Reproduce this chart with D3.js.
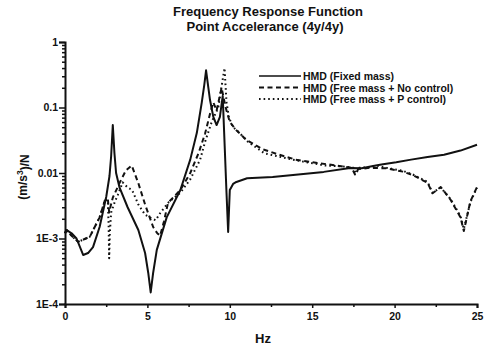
<!DOCTYPE html>
<html>
<head>
<meta charset="utf-8">
<script src="https://cdn.jsdelivr.net/npm/d3@7"></script>
<style>
  body { margin: 0; background: #fff; }
  svg text { font-family: Arial, "Liberation Sans", sans-serif; font-weight: bold; fill: #111; }
</style>
</head>
<body>
<div id="chart"></div>
<script>
// values (Hz, (m/s^2)/N)
var freqFixed = [0, 0.1, 0.4, 0.7, 1.1, 1.4, 1.7, 2.1, 2.5, 2.7, 2.8, 2.9, 3.0, 3.1, 3.3, 3.8, 4.45, 4.86, 5.05, 5.2, 5.35, 5.57, 6.17, 7.0, 7.6, 8.0, 8.3, 8.45, 8.56, 8.7, 8.8, 9.0, 9.2, 9.4, 9.57, 9.7, 9.8, 9.9, 10.0, 10.2, 10.4, 11.05, 12.6, 15.7, 17.3, 18.0, 18.7, 19.2, 20.1, 21, 22, 23, 24, 25];
var fixedMass = [0.0012, 0.00135, 0.0012, 0.001, 0.00056, 0.0006, 0.00074, 0.0015, 0.0043, 0.009, 0.018, 0.054, 0.02, 0.01, 0.0061, 0.003, 0.00135, 0.0006, 0.0003, 0.00015, 0.0003, 0.00067, 0.0021, 0.0055, 0.016, 0.041, 0.12, 0.22, 0.37, 0.2, 0.13, 0.072, 0.054, 0.072, 0.15, 0.022, 0.005, 0.00126, 0.0055, 0.0068, 0.0073, 0.0083, 0.0087, 0.0104, 0.0119, 0.0118, 0.0128, 0.0135, 0.0146, 0.016, 0.0175, 0.019, 0.022, 0.027];

var freqNoCtrl = [0, 0.1, 0.4, 0.8, 1.5, 2.1, 2.43, 2.6, 2.68, 2.75, 2.9, 3.34, 3.7, 4.05, 4.45, 4.86, 5.35, 5.6, 5.77, 6.0, 6.25, 7.0, 7.6, 8.1, 8.5, 8.8, 9.0, 9.2, 9.5, 9.75, 10.0, 10.4, 11, 12, 13, 14, 15.5, 16.5, 17.4, 17.6, 17.8, 18.5, 19.5, 20.5, 21.1, 22, 22.3, 22.8, 23.4, 24, 24.2, 24.6, 25];
var freeNoCtrl = [0.0012, 0.00135, 0.0011, 0.00089, 0.00106, 0.0021, 0.0039, 0.004, 0.0025, 0.003, 0.0042, 0.0073, 0.011, 0.013, 0.007, 0.0033, 0.0015, 0.0012, 0.0011, 0.0018, 0.0035, 0.0055, 0.01, 0.02, 0.04, 0.08, 0.12, 0.09, 0.2, 0.1, 0.06, 0.045, 0.032, 0.023, 0.019, 0.016, 0.014, 0.013, 0.012, 0.0095, 0.0115, 0.012, 0.0118, 0.0105, 0.0093, 0.0071, 0.0049, 0.0061, 0.0039, 0.0021, 0.0013, 0.0037, 0.0061];

var freqPCtrl = [0, 0.1, 0.4, 0.8, 1.5, 2.1, 2.43, 2.6, 2.65, 2.68, 2.72, 2.8, 3.0, 3.2, 3.5, 3.8, 4.07, 4.45, 4.86, 5.3, 5.5, 5.8, 6.3, 7.0, 7.6, 8.2, 8.5, 8.9, 9.3, 9.55, 9.68, 9.8, 9.95, 10.2, 10.5, 11.1, 12.1, 13.8, 15.8, 17.0, 17.5, 17.65, 17.85, 18.5, 19.0, 19.5, 20.5, 21.1, 22, 22.3, 22.8, 23.4, 24, 24.2, 24.6, 25];
var freePCtrl = [0.0012, 0.00135, 0.0011, 0.00089, 0.00106, 0.0021, 0.0039, 0.0038, 0.0015, 0.0005, 0.0012, 0.0025, 0.0035, 0.0046, 0.0072, 0.006, 0.0055, 0.0033, 0.0023, 0.002, 0.0019, 0.0025, 0.0036, 0.005, 0.008, 0.016, 0.03, 0.06, 0.1, 0.25, 0.4, 0.12, 0.07, 0.05, 0.043, 0.03, 0.02, 0.016, 0.013, 0.0125, 0.012, 0.0098, 0.012, 0.0123, 0.0128, 0.012, 0.0108, 0.0095, 0.0073, 0.005, 0.006, 0.004, 0.0022, 0.0014, 0.0036, 0.006];

var seriesNames = ["HMD (Fixed mass)", "HMD (Free mass + No control)", "HMD (Free mass + P control)"];
var xTicks = [0, 5, 10, 15, 20, 25];
var yTicks = [1e-4, 1e-3, 0.01, 0.1, 1];
var yTickLabels = ["1E-4", "1E-3", "0.01", "0.1", "1"];

var width = 488, height = 352;
var plotLeft = 65, plotRight = 477, plotTop = 42, plotBottom = 304;

var svg = d3.select("#chart").append("svg")
  .attr("width", width)
  .attr("height", height);

var x = d3.scaleLinear().domain([0, 25]).range([plotLeft, plotRight]);
var y = d3.scaleLog().domain([1e-4, 1]).range([plotBottom, plotTop]);

// title
svg.append("text").attr("x", 268).attr("y", 16).attr("text-anchor", "middle")
  .style("font-size", "13px").text("Frequency Response Function");
svg.append("text").attr("x", 265).attr("y", 31).attr("text-anchor", "middle")
  .style("font-size", "13px").text("Point Accelerance (4y/4y)");

// x axis: majors every 5, minors every 2.5
var xAxis = d3.axisBottom(x).tickValues(xTicks).tickSize(4).tickFormat(d3.format("d"));
var gx = svg.append("g").attr("transform", "translate(0," + plotBottom + ")").call(xAxis);
svg.append("g").attr("transform", "translate(0," + plotBottom + ")")
  .call(d3.axisBottom(x).tickValues(d3.range(2.5, 25, 5)).tickSize(3).tickFormat(""))
  .select(".domain").remove();

// y axis: decades + minors
var yAxis = d3.axisLeft(y).tickValues(yTicks).tickSize(6)
  .tickFormat(function(d, i){ return yTickLabels[i]; });
var gy = svg.append("g").attr("transform", "translate(" + plotLeft + ",0)").call(yAxis);
var minors = [];
yTicks.slice(0, 4).forEach(function(dec){ for (var k = 2; k < 10; k++) minors.push(dec * k); });
svg.append("g").attr("transform", "translate(" + plotLeft + ",0)")
  .call(d3.axisLeft(y).tickValues(minors).tickSize(3).tickFormat(""))
  .select(".domain").remove();

svg.selectAll(".domain").attr("stroke-width", 2).attr("stroke", "#111");
svg.selectAll(".tick line").attr("stroke-width", 1.5).attr("stroke", "#111");
svg.selectAll(".tick text").style("font-size", "10.5px").style("font-family", "Arial, 'Liberation Sans', sans-serif")
  .style("font-weight", "bold").attr("fill", "#111");
gx.selectAll(".tick text").attr("dy", "0.9em");
gy.selectAll(".tick text").attr("dx", "0.2em");

// axis labels
svg.append("text").attr("x", 263).attr("y", 343).attr("text-anchor", "middle")
  .style("font-size", "13px").text("Hz");
var yl = svg.append("text").attr("transform", "translate(27,177) rotate(-90)")
  .attr("text-anchor", "middle").style("font-size", "12px");
yl.append("tspan").text("(m/s");
yl.append("tspan").attr("dy", "-0.45em").style("font-size", "8.5px").text("3");
yl.append("tspan").attr("dy", "0.45em").text(")/N");

// curves
var line = d3.line()
  .x(function(d){ return x(d[0]); })
  .y(function(d){ return y(d[1]); });

var styles = [
  { dash: null, width: 2 },
  { dash: "5,3.5", width: 2 },
  { dash: "1.6,3", width: 2 }
];
var series = [
  d3.zip(freqFixed, fixedMass),
  d3.zip(freqNoCtrl, freeNoCtrl),
  d3.zip(freqPCtrl, freePCtrl)
];

svg.append("g").selectAll("path")
  .data(series)
  .enter().append("path")
  .attr("d", line)
  .attr("fill", "none")
  .attr("stroke", "#111")
  .attr("stroke-width", function(d, i){ return styles[i].width; })
  .attr("stroke-dasharray", function(d, i){ return styles[i].dash; })
  .attr("stroke-linejoin", "round");

// legend
var legend = svg.append("g").attr("transform", "translate(259,76)");
var rows = legend.selectAll("g").data(seriesNames).enter().append("g")
  .attr("transform", function(d, i){ return "translate(0," + (i * 11.5) + ")"; });
rows.append("line")
  .attr("x1", 0).attr("x2", 42).attr("y1", 0).attr("y2", 0)
  .attr("stroke", "#111")
  .attr("stroke-width", function(d, i){ return i === 0 ? 1.5 : 2; })
  .attr("stroke-dasharray", function(d, i){ return styles[i].dash; });
rows.append("text").attr("x", 44).attr("y", 4)
  .style("font-size", "10.5px").text(function(d){ return d; });
</script>
</body>
</html>
